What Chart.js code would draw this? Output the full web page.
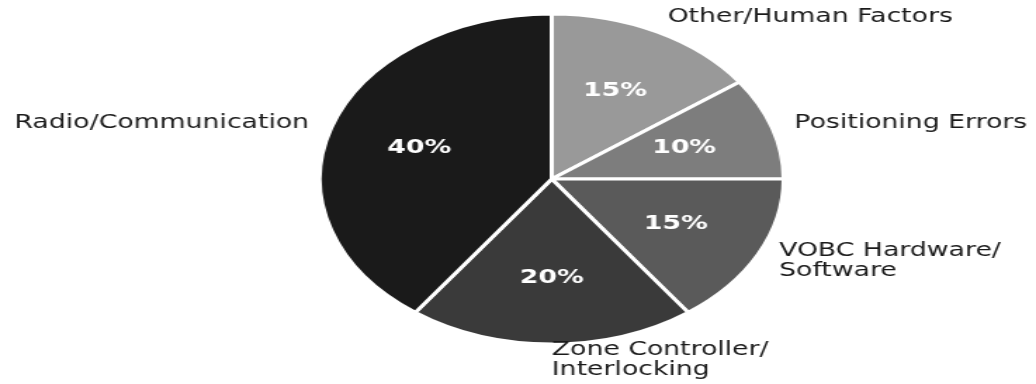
<!DOCTYPE html>
<html>
<head>
<meta charset="utf-8">
<script src="https://cdn.jsdelivr.net/npm/chart.js@4/dist/chart.umd.min.js"></script>
<style>
  html, body { margin: 0; padding: 0; background: #fff; overflow: hidden; }
  #pie { display: block; width: 1036px; height: 384px; }
</style>
</head>
<body>
<canvas id="pie" width="737" height="384" style="width:1036px;height:384px"></canvas>
<script>
'use strict';

// slices go clockwise from 12 o'clock
const causes = [
  'Other/Human Factors',
  'Positioning Errors',
  'VOBC Hardware/\nSoftware',
  'Zone Controller/\nInterlocking',
  'Radio/Communication'
];
const shares = [15, 10, 15, 20, 40];
const greys = ['#999999', '#7d7d7d', '#5a5a5a', '#3a3a3a', '#1a1a1a'];

const FONT = '"DejaVu Sans", sans-serif';

// percent inside each slice and the cause name just outside it
const sliceLabels = {
  id: 'sliceLabels',
  afterDatasetsDraw(chart) {
    const ctx = chart.ctx;
    const meta = chart.getDatasetMeta(0);
    const total = shares.reduce((a, b) => a + b, 0);
    ctx.save();
    meta.data.forEach(function (arc, i) {
      const mid = (arc.startAngle + arc.endAngle) / 2;
      const r = arc.outerRadius;
      const cos = Math.cos(mid);
      const sin = Math.sin(mid);

      ctx.fillStyle = '#ffffff';
      ctx.font = 'bold 19px ' + FONT;
      ctx.textAlign = 'center';
      ctx.textBaseline = 'middle';
      const pct = Math.round(shares[i] / total * 100) + '%';
      ctx.fillText(pct, arc.x + cos * r * 0.6, arc.y + sin * r * 0.6);

      ctx.fillStyle = '#1a1a1a';
      ctx.font = '19px ' + FONT;
      ctx.textAlign = cos > -1e-6 ? 'left' : 'right';
      const lx = arc.x + cos * r * 1.1;
      const ly = arc.y + sin * r * 1.1;
      const lines = causes[i].split('\n');
      const step = 20;
      lines.forEach(function (line, k) {
        ctx.fillText(line, lx, ly + (k - (lines.length - 1) / 2) * step);
      });
    });
    ctx.restore();
  }
};

new Chart(document.getElementById('pie'), {
  type: 'pie',
  data: {
    labels: causes,
    datasets: [{
      data: shares,
      backgroundColor: greys,
      borderColor: '#ffffff',
      borderWidth: 3
    }]
  },
  options: {
    responsive: false,
    animation: false,
    layout: {
      padding: { top: 12, bottom: 38, left: 226, right: 178 }
    },
    plugins: {
      legend: { display: false },
      tooltip: { enabled: false }
    }
  },
  plugins: [sliceLabels]
});
</script>
</body>
</html>
